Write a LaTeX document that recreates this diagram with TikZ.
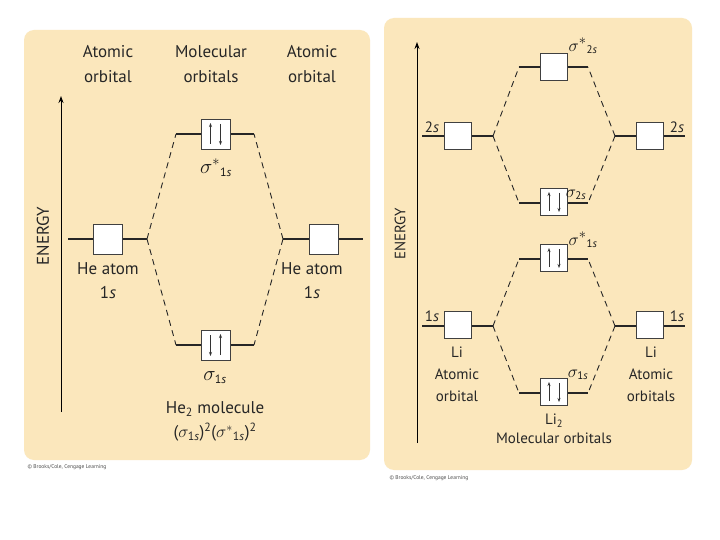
\documentclass[tikz,border=0pt]{standalone}
\usepackage{fontspec}
\setmainfont{PT Sans}
\usetikzlibrary{arrows.meta,calc}
\definecolor{panelc}{RGB}{251,231,188}
\newcommand{\sub}[1]{\hbox{\fontsize{12}{14}\selectfont #1}}
\newcommand{\subr}[1]{\hbox{\fontsize{11}{13}\selectfont #1}}
\begin{document}
\begin{tikzpicture}[x=1pt,y=-1pt,
  panel/.style={fill=panelc,draw=none,rounded corners=10pt},
  lvl/.style={line width=1.8pt,black!85},
  orbL/.style={draw=black!75,fill=white,line width=0.8pt,minimum width=29pt,minimum height=30pt,inner sep=0pt},
  orbR/.style={draw=black!75,fill=white,line width=0.8pt,minimum width=27pt,minimum height=27pt,inner sep=0pt},
  conn/.style={line width=0.9pt,black!85,dash pattern=on 6pt off 4.5pt},
  spin/.style={line width=0.7pt,black!80,-{Stealth[length=4pt,width=3pt]}},
  axis/.style={line width=1pt,-{Stealth[length=7pt,width=5pt]}},
  labL/.style={font=\fontsize{17}{25}\selectfont,align=center,text=black!85},
  labR/.style={font=\fontsize{15}{22}\selectfont,align=center,text=black!85},
  sigL/.style={font=\fontsize{22}{24}\selectfont,text=black!90},
  sigR/.style={font=\fontsize{19}{21}\selectfont,text=black!90},
  copy/.style={font=\fontsize{5.5}{6}\selectfont,text=black!70,anchor=west}
]
\useasboundingbox (0,0) rectangle (720,540);
\fill[white] (0,0) rectangle (720,540);
% panels
\path[panel] (24,30) rectangle (370,460);
\path[panel] (384,18) rectangle (692,470);

% ===== Left panel (He2) =====
\node[labL] (hA) at (108,64) {Atomic\\orbital};
\node[labL] (hM) at (211,64) {Molecular\\orbitals};
\node[labL] (hB) at (312,64) {Atomic\\orbital};
\coordinate (eL0) at (61,412);
\coordinate (eL1) at (61,96);
\draw[axis] (eL0) -- (eL1);
\node[labL,rotate=90] (enL) at (43,236) {ENERGY};

\coordinate (aL1) at (68,239);  \coordinate (aL2) at (147,239);
\coordinate (aR1) at (283,239); \coordinate (aR2) at (363,239);
\coordinate (mU1) at (176,134); \coordinate (mU2) at (254,134);
\coordinate (mD1) at (176,345); \coordinate (mD2) at (254,345);
\draw[lvl] (aL1) -- (aL2);
\draw[lvl] (aR1) -- (aR2);
\draw[lvl] (mU1) -- (mU2);
\draw[lvl] (mD1) -- (mD2);
\draw[conn] (aL2) -- (mU1);
\draw[conn] (aL2) -- (mD1);
\draw[conn] (aR1) -- (mU2);
\draw[conn] (aR1) -- (mD2);
\node[orbL] (bAL) at (107.5,239) {};
\node[orbL] (bAR) at (323.5,239) {};
\node[orbL] (bMU) at (215.5,134) {};
\node[orbL] (bMD) at (215.5,345) {};
\draw[spin] ($(bMU.center)+(-5,10)$) -- ($(bMU.center)+(-5,-11)$);
\draw[spin] ($(bMU.center)+(5,-10)$) -- ($(bMU.center)+(5,11)$);
\draw[spin] ($(bMD.center)+(-5,-10)$) -- ($(bMD.center)+(-5,11)$);
\draw[spin] ($(bMD.center)+(5,10)$) -- ($(bMD.center)+(5,-11)$);

\node[labL] (lAL) at (108,281) {He atom\\[-1pt]1\textit{s}};
\node[labL] (lAR) at (312,281) {He atom\\[-1pt]1\textit{s}};
\node[sigL] (lMU) at (216,168) {$\sigma^{*}{}_{\sub{1\textit{s}}}$};
\node[sigL] (lMD) at (215,378) {$\sigma_{\sub{1\textit{s}}}$};
\node[labL] (lHe) at (215,409) {He\textsubscript{2} molecule};
\node[font=\fontsize{17}{20}\selectfont,text=black!85] (lcfg) at (215,432)
  {($\sigma_{\sub{1\textit{s}}}$)\textsuperscript{2}($\sigma^{*}{}_{\sub{1\textit{s}}}$)\textsuperscript{2}};
\node[copy] (cpL) at (24,467) {\textcopyright\ Brooks/Cole, Cengage Learning};

% ===== Right panel (Li2) =====
\coordinate (eR0) at (417,443);
\coordinate (eR1) at (417,42);
\draw[axis] (eR0) -- (eR1);
\node[labR,rotate=90] (enR) at (400,234) {ENERGY};

% 2s set
\coordinate (p1) at (422,136); \coordinate (p2) at (493,136);
\coordinate (q1) at (615,136); \coordinate (q2) at (685,136);
\coordinate (s1) at (519,67);  \coordinate (s2) at (588,67);
\coordinate (t1) at (519,203); \coordinate (t2) at (588,203);
% 1s set
\coordinate (u1) at (422,326); \coordinate (u2) at (493,326);
\coordinate (v1) at (615,326); \coordinate (v2) at (685,326);
\coordinate (w1) at (519,259); \coordinate (w2) at (588,259);
\coordinate (z1) at (519,393); \coordinate (z2) at (588,393);

\foreach \a/\b in {p1/p2,q1/q2,s1/s2,t1/t2,u1/u2,v1/v2,w1/w2,z1/z2}
  \draw[lvl] (\a) -- (\b);
\draw[conn] (p2) -- (s1);
\draw[conn] (p2) -- (t1);
\draw[conn] (q1) -- (s2);
\draw[conn] (q1) -- (t2);
\draw[conn] (u2) -- (w1);
\draw[conn] (u2) -- (z1);
\draw[conn] (v1) -- (w2);
\draw[conn] (v1) -- (z2);

\node[orbR] (r2L) at (457.5,136) {};
\node[orbR] (r2R) at (650,136) {};
\node[orbR] (rS2u) at (554,67) {};
\node[orbR] (rS2d) at (554,202) {};
\node[orbR] (r1L) at (457.5,325) {};
\node[orbR] (r1R) at (650,325) {};
\node[orbR] (rS1u) at (554,258) {};
\node[orbR] (rS1d) at (554,392) {};
\foreach \n in {rS2d,rS1u,rS1d}{
  \draw[spin] ($(\n.center)+(-5,9)$) -- ($(\n.center)+(-5,-10)$);
  \draw[spin] ($(\n.center)+(5,-9)$) -- ($(\n.center)+(5,10)$);
}

\node[labR] (l2L) at (432,127) {2\textit{s}};
\node[labR] (l2R) at (677,127) {2\textit{s}};
\node[labR] (l1L) at (432,316) {1\textit{s}};
\node[labR] (l1R) at (677,316) {1\textit{s}};
\node[sigR] (lS2u) at (583,46) {$\sigma^{*}{}_{\subr{2\textit{s}}}$};
\node[sigR] (lS2d) at (576,195) {$\sigma_{\subr{2\textit{s}}}$};
\node[sigR] (lS1u) at (583,240) {$\sigma^{*}{}_{\subr{1\textit{s}}}$};
\node[sigR] (lS1d) at (578,375) {$\sigma_{\subr{1\textit{s}}}$};
\node[labR] (lLiL) at (457,374) {Li\\Atomic\\orbital};
\node[labR] (lLiR) at (651,374) {Li\\Atomic\\orbitals};
\node[labR,font=\fontsize{15}{19}\selectfont] (lLi2) at (554,429) {Li\textsubscript{2}\\Molecular orbitals};
\node[copy] (cpR) at (386,478) {\textcopyright\ Brooks/Cole, Cengage Learning};
\end{tikzpicture}
\end{document}
